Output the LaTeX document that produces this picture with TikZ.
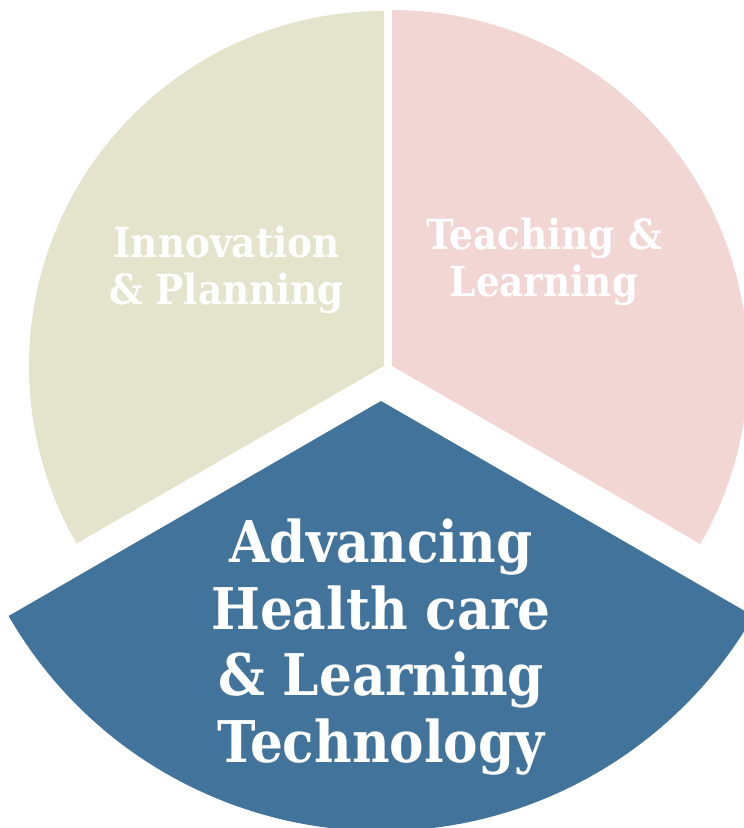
\documentclass[tikz,border=0pt]{standalone}
\usepackage{fontspec}
\setmainfont[FakeStretch=0.9]{DejaVu Serif}
\definecolor{beigefill}{HTML}{E4E3CC}
\definecolor{pinkfill}{HTML}{F2D6D4}
\definecolor{bluefill}{HTML}{41739B}
\tikzset{
  smalllabel/.style={text=white, font=\bfseries\fontsize{41.5}{47}\selectfont, align=center, anchor=base, inner sep=0pt},
  biglabel/.style={text=white, font=\bfseries\fontsize{57.5}{67}\selectfont, align=center, anchor=base, inner sep=0pt}
}
\begin{document}
\begin{tikzpicture}[x=1pt,y=1pt]
\useasboundingbox (0,0) rectangle (744,828);
\clip (0,0) rectangle (744,828);
\fill[beigefill] (384,462) -- ++(90:355pt) arc[start angle=90,end angle=210,radius=355pt] -- cycle;
\fill[pinkfill] (392,462) -- ++(-30:356pt) arc[start angle=-30,end angle=90,radius=356pt] -- cycle;
\fill[bluefill] (381,427) -- ++(210:430pt) arc[start angle=210,end angle=330,radius=430pt] -- cycle;
\node[smalllabel] (innov) at (226.5,523) {Innovation\\\& Planning};
\node[smalllabel] (teach) at (544,531) {Teaching \&\\Learning};
\node[biglabel] (adv) at (381,65) {Advancing\\Health care\\\& Learning\\Technology};
\end{tikzpicture}
\end{document}
